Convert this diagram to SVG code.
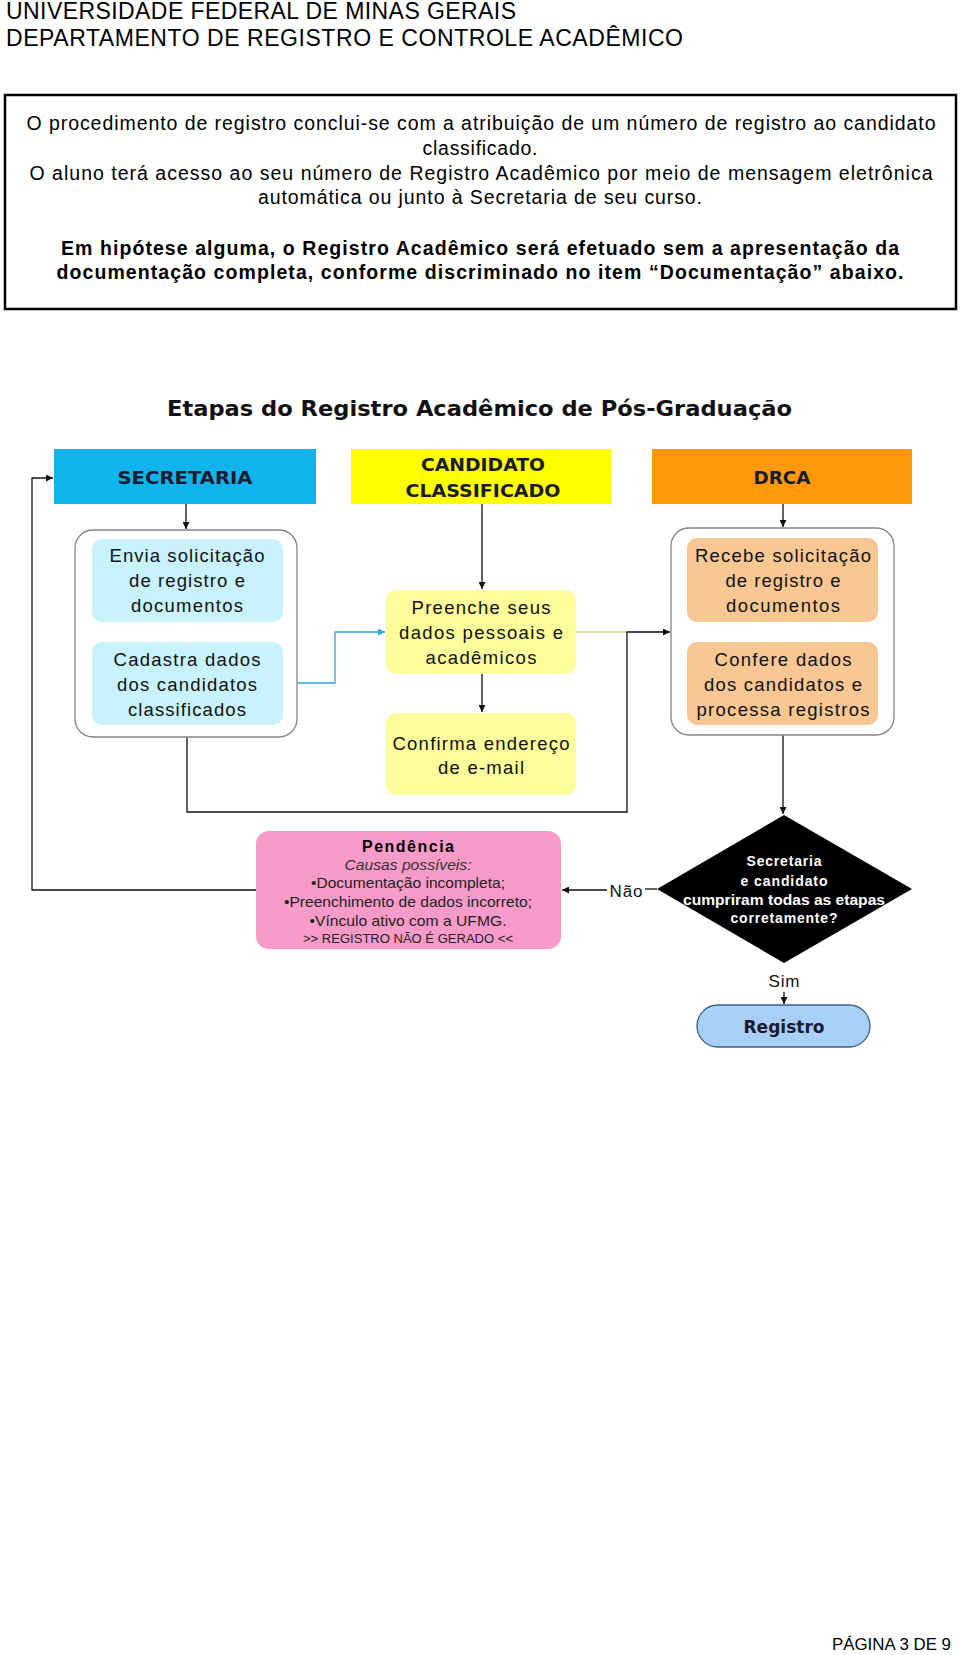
<svg xmlns="http://www.w3.org/2000/svg" width="960" height="1655" viewBox="0 0 960 1655">
<defs>
<style>
.hdr{font-family:"Liberation Sans",Arial,sans-serif;font-size:23px;fill:#000}
.bx{font-family:"Liberation Sans",Arial,sans-serif;font-size:19.5px;fill:#000;text-anchor:middle}
.bxb{font-family:"Liberation Sans",Arial,sans-serif;font-size:19.5px;font-weight:bold;fill:#000;text-anchor:middle}
.ttl{font-family:"DejaVu Sans",Verdana,sans-serif;font-size:22px;font-weight:bold;fill:#111}
.lane{font-family:"DejaVu Sans",Verdana,sans-serif;font-size:17px;font-weight:bold;fill:#1a1a30;text-anchor:middle}
.st{font-family:"Liberation Sans",Arial,sans-serif;font-size:18.5px;fill:#111;text-anchor:middle}
.dt{font-family:"Liberation Sans",Arial,sans-serif;font-size:14px;font-weight:bold;fill:#fff;text-anchor:middle}
.lbl{font-family:"Liberation Sans",Arial,sans-serif;font-size:17px;fill:#111;text-anchor:middle}
.pk{font-family:"Liberation Sans",Arial,sans-serif;font-size:14.5px;fill:#222;text-anchor:middle}
.pkh{font-family:"Liberation Sans",Arial,sans-serif;font-size:16px;font-weight:bold;fill:#000;text-anchor:middle}
.pki{font-family:"Liberation Sans",Arial,sans-serif;font-size:15px;font-style:italic;fill:#333;text-anchor:middle}
.pks{font-family:"Liberation Sans",Arial,sans-serif;font-size:12.5px;fill:#222;text-anchor:middle}
.ft{font-family:"Liberation Sans",Arial,sans-serif;font-size:16.5px;fill:#000}
.cont{fill:#fff;stroke:#858585;stroke-width:1.3}
.cy{fill:#c9f3fc}
.ye{fill:#fefd9c}
.or{fill:#f9c794}
.ln{fill:none;stroke:#111;stroke-width:1.3}
</style>
<marker id="ah" viewBox="0 0 10 10" refX="10" refY="5" markerWidth="7" markerHeight="7" markerUnits="userSpaceOnUse" orient="auto"><path d="M0,0 L10,5 L0,10 z" fill="#111"/></marker>
<marker id="ahb" viewBox="0 0 10 10" refX="10" refY="5" markerWidth="7" markerHeight="7" markerUnits="userSpaceOnUse" orient="auto"><path d="M0,0 L10,5 L0,10 z" fill="#2aa8d8"/></marker>
</defs>
<rect width="960" height="1655" fill="#fff"/>

<g id="header">
<text class="hdr" x="6" y="19" textLength="510">UNIVERSIDADE FEDERAL DE MINAS GERAIS</text>
<text class="hdr" x="6" y="46" textLength="677">DEPARTAMENTO DE REGISTRO E CONTROLE ACADÊMICO</text>
</g>

<g id="notice">
<rect x="5" y="95" width="951" height="214" fill="none" stroke="#000" stroke-width="2.5"/>
<text class="bx" x="481" y="130" textLength="909">O procedimento de registro conclui-se com a atribuição de um número de registro ao candidato</text>
<text class="bx" x="480" y="155" textLength="115">classificado.</text>
<text class="bx" x="481" y="180" textLength="903">O aluno terá acesso ao seu número de Registro Acadêmico por meio de mensagem eletrônica</text>
<text class="bx" x="480" y="204" textLength="444">automática ou junto à Secretaria de seu curso.</text>
<text class="bxb" x="480" y="255" textLength="838">Em hipótese alguma, o Registro Acadêmico será efetuado sem a apresentação da</text>
<text class="bxb" x="480" y="279" textLength="847">documentação completa, conforme discriminado no item “Documentação” abaixo.</text>
</g>

<g id="title">
<text class="ttl" x="167" y="416" textLength="625" lengthAdjust="spacingAndGlyphs">Etapas do Registro Acadêmico de Pós-Graduação</text>
</g>

<g id="connectors">
<path class="ln" d="M186 504 V529" marker-end="url(#ah)"/>
<path class="ln" d="M482 504 V589" marker-end="url(#ah)"/>
<path class="ln" d="M783 504 V527" marker-end="url(#ah)"/>
<path class="ln" d="M187 622 V642"/>
<path d="M283 683 H335 V632 H385" fill="none" stroke="#2aa8d8" stroke-width="1.3" marker-end="url(#ahb)"/>
<path class="ln" d="M482 674 V712" marker-end="url(#ah)"/>
<path d="M576 632 H627" fill="none" stroke="#ddd88a" stroke-width="1.3"/>
<path class="ln" d="M187 737 V812 H627 V632 H670" marker-end="url(#ah)"/>
<path class="ln" d="M783 735 V814" marker-end="url(#ah)"/>
<path class="ln" d="M657 889 H645"/>
<path class="ln" d="M607 890 H562" marker-end="url(#ah)"/>
<path class="ln" d="M256 890 H32 V478 H53" marker-end="url(#ah)"/>
<path class="ln" d="M784 992 V1004" marker-end="url(#ah)"/>
</g>

<g id="secretaria">
<rect x="54" y="449" width="262" height="55" fill="#10b4ec"/>
<text class="lane" x="185" y="484" textLength="135" lengthAdjust="spacingAndGlyphs">SECRETARIA</text>
</g>
<g id="candidato">
<rect x="351" y="449" width="260" height="55" fill="#ffff00"/>
<text class="lane" x="483" y="471" textLength="124" lengthAdjust="spacingAndGlyphs">CANDIDATO</text>
<text class="lane" x="483" y="497" textLength="155" lengthAdjust="spacingAndGlyphs">CLASSIFICADO</text>
</g>
<g id="drca">
<rect x="652" y="449" width="260" height="55" fill="#fe9a0a"/>
<text class="lane" x="782" y="484" textLength="57" lengthAdjust="spacingAndGlyphs">DRCA</text>
</g>

<g id="sec-container">
<rect class="cont" x="75" y="530" width="222" height="207" rx="18"/>
</g>
<g id="envia">
<rect class="cy" x="92" y="539" width="191" height="83" rx="10"/>
<text class="st" x="187" y="562" textLength="155">Envia solicitação</text>
<text class="st" x="187" y="587" textLength="116">de registro e</text>
<text class="st" x="187" y="612" textLength="112">documentos</text>
</g>
<g id="cadastra">
<rect class="cy" x="92" y="642" width="191" height="83" rx="10"/>
<text class="st" x="187" y="666" textLength="147">Cadastra dados</text>
<text class="st" x="187" y="691" textLength="140">dos candidatos</text>
<text class="st" x="187" y="716" textLength="118">classificados</text>
</g>

<g id="preenche">
<rect class="ye" x="386" y="590" width="190" height="84" rx="10"/>
<text class="st" x="481" y="614" textLength="139">Preenche seus</text>
<text class="st" x="481" y="639" textLength="164">dados pessoais e</text>
<text class="st" x="481" y="664" textLength="111">acadêmicos</text>
</g>
<g id="confirma">
<rect class="ye" x="386" y="713" width="190" height="82" rx="10"/>
<text class="st" x="481" y="750" textLength="177">Confirma endereço</text>
<text class="st" x="481" y="774" textLength="86">de e-mail</text>
</g>

<g id="drca-container">
<rect class="cont" x="671" y="528" width="223" height="207" rx="18"/>
</g>
<g id="recebe">
<rect class="or" x="687" y="538" width="191" height="84" rx="10"/>
<text class="st" x="783" y="562" textLength="176">Recebe solicitação</text>
<text class="st" x="783" y="587" textLength="115">de registro e</text>
<text class="st" x="783" y="612" textLength="114">documentos</text>
</g>
<g id="confere">
<rect class="or" x="687" y="642" width="191" height="83" rx="10"/>
<text class="st" x="783" y="666" textLength="137">Confere dados</text>
<text class="st" x="783" y="691" textLength="158">dos candidatos e</text>
<text class="st" x="783" y="716" textLength="173">processa registros</text>
</g>

<g id="decisao">
<path d="M784 815 L912 889 L784 963 L657 889 Z" fill="#000"/>
<text class="dt" x="784" y="866" textLength="75">Secretaria</text>
<text class="dt" x="784" y="886" textLength="87">e candidato</text>
<text class="dt" x="784" y="905" textLength="202" lengthAdjust="spacingAndGlyphs">cumpriram todas as etapas</text>
<text class="dt" x="784" y="923" textLength="107">corretamente?</text>
</g>
<g id="label-nao">
<text class="lbl" x="626" y="897" textLength="33">Não</text>
</g>
<g id="label-sim">
<text class="lbl" x="784" y="987" textLength="31">Sim</text>
</g>

<g id="pendencia">
<rect x="256" y="831" width="305" height="118" rx="13" fill="#f99bc9"/>
<text class="pkh" x="408" y="852" textLength="92">Pendência</text>
<text class="pki" x="408" y="870" textLength="127" lengthAdjust="spacingAndGlyphs">Causas possíveis:</text>
<text class="pk" x="408" y="888" textLength="194" lengthAdjust="spacingAndGlyphs">•Documentação incompleta;</text>
<text class="pk" x="408" y="907" textLength="248" lengthAdjust="spacingAndGlyphs">•Preenchimento de dados incorreto;</text>
<text class="pk" x="408" y="926" textLength="197" lengthAdjust="spacingAndGlyphs">•Vínculo ativo com a UFMG.</text>
<text class="pks" x="408" y="943" textLength="210" lengthAdjust="spacingAndGlyphs">&gt;&gt; REGISTRO NÃO É GERADO &lt;&lt;</text>
</g>

<g id="registro">
<rect x="697" y="1005" width="173" height="42" rx="21" fill="#a8cff5" stroke="#3b5f86" stroke-width="1.3"/>
<text class="lane" x="784" y="1033" textLength="81" lengthAdjust="spacingAndGlyphs">Registro</text>
</g>

<g id="footer">
<text class="ft" x="832" y="1650" textLength="119" lengthAdjust="spacingAndGlyphs">PÁGINA 3 DE 9</text>
</g>
</svg>
